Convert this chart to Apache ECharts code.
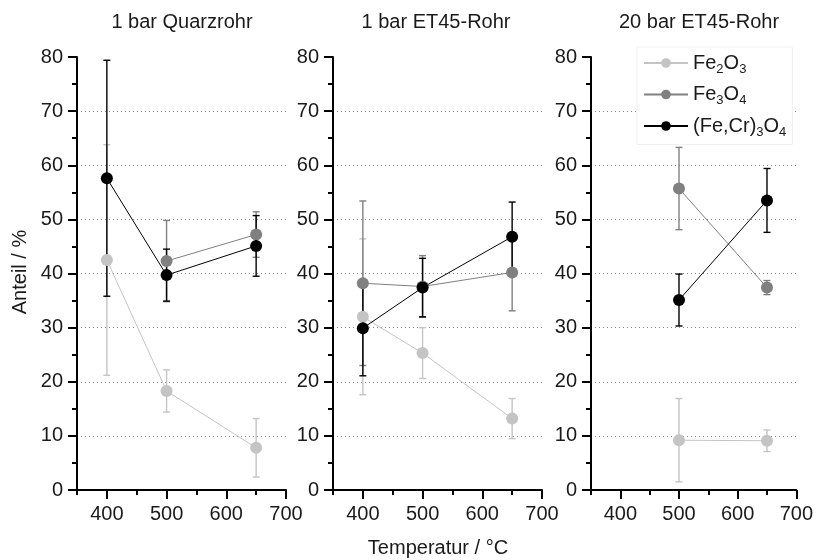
<!DOCTYPE html>
<html>
<head>
<meta charset="utf-8">
<script src="https://cdn.jsdelivr.net/npm/echarts@6/dist/echarts.min.js"></script>
<style>html,body{margin:0;padding:0;background:#fff}#c{width:816px;height:560px}</style>
</head>
<body>
<div id="c"></div>
<script>
// ---- data ----
const temps = [400, 500, 650];
const panelTitles = ['1 bar Quarzrohr', '1 bar ET45-Rohr', '20 bar ET45-Rohr'];
const seriesNames = ['Fe2O3', 'Fe3O4', '(Fe,Cr)3O4'];
const xMajorTicks = [400, 500, 600, 700];
const xMinorTicks = [350, 450, 550, 650];

// Panel 1: 1 bar Quarzrohr
const p1_fe2o3 = [42.5, 18.3, 7.8];
const p1_fe2o3_err = [21.3, 3.9, 5.4];
const p1_fe3o4 = [null, 42.3, 47.2];
const p1_fe3o4_err = [null, 7.5, 4.2];
const p1_fecr = [57.6, 39.7, 45.1];
const p1_fecr_err = [21.8, 4.8, 5.6];

// Panel 2: 1 bar ET45-Rohr
const p2_fe2o3 = [32.0, 25.3, 13.2];
const p2_fe2o3_err = [14.4, 4.7, 3.7];
const p2_fe3o4 = [38.2, 37.6, 40.2];
const p2_fe3o4_err = [15.2, 5.7, 7.1];
const p2_fecr = [29.9, 37.4, 46.8];
const p2_fecr_err = [8.8, 5.4, 6.4];

// Panel 3: 20 bar ET45-Rohr
const p3_fe2o3 = [null, 9.2, 9.1];
const p3_fe2o3_err = [null, 7.7, 2.0];
const p3_fe3o4 = [null, 55.7, 37.4];
const p3_fe3o4_err = [null, 7.6, 1.3];
const p3_fecr = [null, 35.1, 53.5];
const p3_fecr_err = [null, 4.8, 5.9];

// ---- layout / style ----
const panels = [
  { vals: [p1_fe2o3, p1_fe3o4, p1_fecr], errs: [p1_fe2o3_err, p1_fe3o4_err, p1_fecr_err] },
  { vals: [p2_fe2o3, p2_fe3o4, p2_fecr], errs: [p2_fe2o3_err, p2_fe3o4_err, p2_fecr_err] },
  { vals: [p3_fe2o3, p3_fe3o4, p3_fecr], errs: [p3_fe2o3_err, p3_fe3o4_err, p3_fecr_err] }
];
const gridLefts = [77, 333, 591];
const gridW = 209, gridTop = 57, gridH = 433;
const colors = ['#c4c4c4', '#808080', '#000000'];
const FONT = '"Liberation Sans", Arial, sans-serif';
const TXT = '#1a1a1a';
const FS = 20;

const grids = [], xAxes = [], yAxes = [], series = [];
panels.forEach((p, i) => {
  grids.push({ left: gridLefts[i], top: gridTop, width: gridW, height: gridH, containLabel: false });
  // main x axis (major ticks + labels)
  xAxes.push({
    type: 'value', gridIndex: i, min: 350, max: 700, interval: 50, position: 'bottom',
    axisLine: { show: true, onZero: false, lineStyle: { color: '#000', width: 2 } },
    axisTick: { show: true, customValues: xMajorTicks, length: 9, inside: false, lineStyle: { color: '#000', width: 2 } },
    axisLabel: { show: true, customValues: xMajorTicks, margin: 14, fontSize: FS, fontFamily: FONT, color: TXT },
    splitLine: { show: false }
  });
  // minor x ticks
  xAxes.push({
    type: 'value', gridIndex: i, min: 350, max: 700, interval: 50, position: 'bottom',
    axisLine: { show: false, onZero: false },
    axisTick: { show: true, customValues: xMinorTicks, length: 5, lineStyle: { color: '#000', width: 2 } },
    axisLabel: { show: false },
    splitLine: { show: false }
  });
  yAxes.push({
    type: 'value', gridIndex: i, min: 0, max: 80, interval: 10,
    axisLine: { show: true, onZero: false, lineStyle: { color: '#000', width: 2 } },
    axisTick: { show: true, length: 9, lineStyle: { color: '#000', width: 2 } },
    minorTick: { show: true, splitNumber: 2, length: 5, lineStyle: { color: '#000', width: 2 } },
    axisLabel: { margin: 14, fontSize: FS, fontFamily: FONT, color: TXT },
    splitLine: { show: true, showMinLine: false, showMaxLine: false, lineStyle: { color: '#8a8a8a', width: 1, type: [1, 3] } }
  });
  p.vals.forEach((vals, k) => {
    const errData = [];
    vals.forEach((v, j) => {
      if (v != null) errData.push([temps[j], v - p.errs[k][j], v + p.errs[k][j]]);
    });
    series.push({
      type: 'custom', xAxisIndex: i * 2, yAxisIndex: i, silent: true,
      data: errData,
      renderItem: (params, api) => {
        const x = api.value(0);
        const lo = api.coord([x, api.value(1)]);
        const hi = api.coord([x, api.value(2)]);
        const cw = 3.5;
        const st = { stroke: colors[k], lineWidth: 1.4 };
        return {
          type: 'group',
          children: [
            { type: 'line', shape: { x1: lo[0], y1: lo[1], x2: hi[0], y2: hi[1] }, style: st },
            { type: 'line', shape: { x1: lo[0] - cw, y1: lo[1], x2: lo[0] + cw, y2: lo[1] }, style: st },
            { type: 'line', shape: { x1: hi[0] - cw, y1: hi[1], x2: hi[0] + cw, y2: hi[1] }, style: st }
          ]
        };
      }
    });
    series.push({
      type: 'line', name: seriesNames[k], xAxisIndex: i * 2, yAxisIndex: i,
      data: vals.map((v, j) => [temps[j], v]),
      symbol: 'circle', symbolSize: 12, connectNulls: false,
      lineStyle: { color: colors[k], width: 1 },
      itemStyle: { color: colors[k] },
      emphasis: { disabled: true }, silent: true
    });
  });
});

function richName(name) {
  return name.split(/(\d)/).filter(s => s.length).map(s => /^\d$/.test(s) ? '{s|' + s + '}' : '{n|' + s + '}').join('');
}

const titleCenters = [182, 436, 699];
const graphics = panelTitles.map((t, i) => ({
  type: 'text', x: titleCenters[i], y: 22,
  style: { text: t, fill: TXT, font: FS + 'px ' + FONT, align: 'center', verticalAlign: 'middle', textAlign: 'center', textVerticalAlign: 'middle' }
}));
graphics.push({
  type: 'text', x: 438, y: 548,
  style: { text: 'Temperatur / °C', fill: TXT, font: FS + 'px ' + FONT, align: 'center', verticalAlign: 'middle', textAlign: 'center', textVerticalAlign: 'middle' }
});
graphics.push({
  type: 'text', x: 20, y: 272, rotation: Math.PI / 2,
  style: { text: 'Anteil / %', fill: TXT, font: FS + 'px ' + FONT, align: 'center', verticalAlign: 'middle', textAlign: 'center', textVerticalAlign: 'middle' }
});

const chart = echarts.init(document.getElementById('c'), null, { renderer: 'canvas' });
chart.setOption({
  animation: false,
  backgroundColor: '#fff',
  grid: grids,
  xAxis: xAxes,
  yAxis: yAxes,
  series: series,
  graphic: graphics,
  legend: {
    data: seriesNames,
    orient: 'vertical', left: 637, top: 47,
    itemWidth: 44, itemHeight: 12, itemGap: 9,
    padding: [6, 6, 6, 6],
    backgroundColor: '#fff', borderColor: '#f0f0f0', borderWidth: 1,
    selectedMode: false,
    formatter: richName,
    textStyle: {
      color: TXT, fontFamily: FONT,
      rich: {
        n: { fontSize: FS, fontFamily: FONT, color: TXT, verticalAlign: 'middle' },
        s: { fontSize: 13, fontFamily: FONT, color: TXT, verticalAlign: 'middle', padding: [12, 0, 0, 0] }
      }
    }
  }
});
</script>
</body>
</html>
